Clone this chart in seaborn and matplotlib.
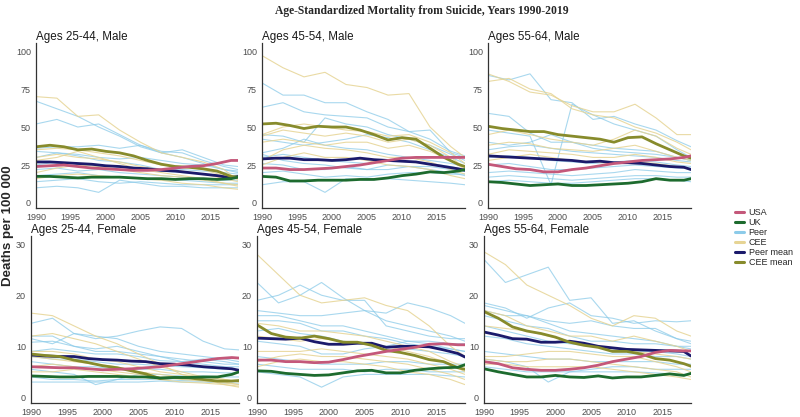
import numpy as np
import pandas as pd
import matplotlib
matplotlib.use("Agg")
import matplotlib.pyplot as plt
import seaborn as sns
from matplotlib.lines import Line2D

# ---------------- data ----------------
years_main = [1990, 1992, 1994, 1996, 1998, 2000, 2002, 2004, 2006, 2008,
              2010, 2012, 2014, 2016, 2018, 2019]
years_thin = [1990, 1993, 1996, 1999, 2002, 2005, 2008, 2011, 2014, 2017, 2019]

panel_titles = ["Ages 25-44, Male", "Ages 45-54, Male", "Ages 55-64, Male",
                "Ages 25-44, Female", "Ages 45-54, Female", "Ages 55-64, Female"]
x_ticks = [1990, 1995, 2000, 2005, 2010, 2015]
y_ticks_male = [0, 25, 50, 75, 100]
y_ticks_female = [0, 10, 20, 30]
legend_labels = ["USA", "UK", "Peer", "CEE", "Peer mean", "CEE mean"]

# Panel 1: Ages 25-44, Male
p1_usa = [24, 24.5, 25, 24, 23, 22.5, 22, 21.5, 21.5, 22, 23, 24, 24.5, 26, 28, 28]
p1_uk = [17.5, 17.5, 17, 16.5, 17, 17, 17, 16.5, 16, 16, 15.5, 16, 16, 15.5, 16, 17]
p1_peer_mean = [27, 27, 26.5, 26, 25.5, 24.5, 24, 23, 22.5, 21.5, 21, 20, 19, 18, 16.5, 17.5]
p1_cee_mean = [37, 38, 37, 35, 35.5, 34, 33, 31, 28, 25.5, 24, 23.5, 22.5, 21, 17.5, 17]
p1_peer = [
    [67, 62, 57, 50, 44, 37, 33, 30, 26, 22, 21],
    [52, 55, 50, 52, 45, 38, 34, 33, 28, 24, 22],
    [36, 37, 37, 38, 36, 38, 33, 35, 30, 25, 24],
    [34, 33, 32, 30, 29, 30, 28, 26, 25, 22, 20],
    [30, 33, 31, 28, 27, 25, 22, 22, 21, 20, 19],
    [25, 27, 26, 24, 24, 22, 21, 20, 19, 18, 18],
    [22, 23, 21, 22, 20, 19, 18, 17, 16, 15, 15],
    [14, 15, 16, 14, 13, 14, 13, 12, 12, 12, 12],
    [10, 11, 10, 7, 15, 13, 11, 11, 10, 10, 10],
    [18, 19, 20, 18, 17, 16, 16, 15, 14, 13, 13],
]
p1_cee = [
    [70, 69, 57, 58, 48, 40, 33, 30, 27, 22, 15],
    [35, 36, 35, 33, 31, 28, 25, 24, 22, 18, 16],
    [30, 32, 30, 29, 27, 24, 22, 21, 19, 16, 14],
    [28, 30, 34, 30, 26, 22, 20, 18, 16, 13, 12],
    [20, 23, 25, 24, 22, 20, 18, 17, 15, 13, 11],
    [16, 18, 19, 18, 17, 16, 15, 13, 12, 10, 9],
]

# Panel 2: Ages 45-54, Male
p2_usa = [23, 23, 22, 22, 22.5, 23, 24, 25, 26.5, 28, 29.5, 30, 30, 30, 30, 30]
p2_uk = [17.5, 17, 14.5, 14.5, 15, 15, 15, 15.5, 15.5, 16.5, 18, 19, 20.5, 20, 21, 22]
p2_peer_mean = [29, 29.5, 29.5, 28.5, 28.5, 28, 28.5, 29.5, 28.5, 28, 27.5, 27, 25.5, 24, 22.5, 21.5]
p2_cee_mean = [52, 52.5, 51, 49, 50.5, 50, 50, 48, 45, 41.5, 43, 42, 36, 30, 25.5, 24]
p2_peer = [
    [79, 71, 71, 66, 66, 60, 55, 47, 42, 34, 31],
    [63, 66, 60, 58, 57, 56, 50, 47, 48, 33, 30],
    [45, 44, 40, 56, 52, 50, 45, 42, 38, 32, 28],
    [42, 40, 38, 40, 42, 45, 43, 40, 35, 30, 26],
    [33, 36, 42, 38, 36, 35, 32, 30, 28, 26, 24],
    [30, 32, 30, 28, 27, 26, 28, 27, 26, 24, 22],
    [26, 25, 22, 22, 24, 22, 22, 24, 24, 22, 21],
    [20, 21, 19, 17, 18, 17, 19, 20, 20, 19, 19],
    [12, 14, 14, 7, 16, 15, 16, 15, 14, 13, 12],
    [32, 28, 26, 25, 23, 22, 25, 24, 22, 20, 18],
]
p2_cee = [
    [97, 89, 83, 86, 78, 76, 71, 72, 50, 37, 30],
    [45, 50, 52, 50, 48, 47, 44, 45, 40, 33, 26],
    [44, 48, 46, 44, 46, 44, 40, 42, 38, 30, 23],
    [40, 42, 40, 38, 40, 40, 36, 38, 34, 28, 22],
    [28, 35, 38, 36, 35, 33, 30, 30, 27, 22, 19],
    [25, 30, 33, 30, 30, 28, 25, 24, 22, 18, 16],
]

# Panel 3: Ages 55-64, Male
p3_usa = [25.5, 24, 22.5, 22, 20.5, 20.5, 22, 23, 24.5, 26, 27, 28, 28.5, 29, 30, 31]
p3_uk = [14, 13.5, 12.5, 11.5, 12, 12.5, 11.5, 11.5, 12, 12.5, 13, 14, 16, 15, 15, 16]
p3_peer_mean = [31, 30.5, 30, 29.5, 29, 28.5, 28, 27, 27.5, 26.5, 26.5, 26, 25, 24, 23.5, 22]
p3_cee_mean = [50.5, 49, 48, 47, 47, 45, 44, 43, 42, 40, 43, 43.5, 39, 35, 31, 29.5]
p3_peer = [
    [84, 81, 85, 68, 66, 55, 57, 52, 48, 41, 37],
    [59, 57, 46, 40, 40, 38, 36, 35, 34, 30, 28],
    [48, 46, 44, 12, 65, 58, 52, 48, 44, 35, 30],
    [40, 38, 40, 45, 40, 36, 34, 33, 32, 30, 28],
    [35, 37, 38, 36, 34, 33, 32, 31, 30, 28, 27],
    [30, 31, 30, 28, 27, 26, 27, 28, 27, 25, 24],
    [25, 26, 24, 22, 22, 23, 24, 25, 24, 23, 23],
    [20, 21, 20, 19, 18, 19, 20, 22, 21, 20, 20],
    [17, 18, 17, 16, 15, 16, 17, 18, 18, 17, 17],
    [14, 15, 14, 13, 13, 14, 15, 16, 16, 15, 14],
]
p3_cee = [
    [85, 80, 73, 71, 64, 60, 60, 65, 56, 45, 45],
    [80, 82, 75, 72, 62, 58, 56, 50, 46, 40, 35],
    [45, 48, 45, 42, 40, 38, 42, 48, 44, 36, 32],
    [38, 40, 39, 36, 35, 34, 36, 38, 34, 30, 28],
    [32, 35, 34, 33, 32, 30, 30, 32, 30, 27, 26],
    [28, 30, 32, 30, 28, 27, 26, 27, 26, 24, 22],
]

# Panel 4: Ages 25-44, Female
p4_usa = [6.0, 5.9, 5.8, 5.8, 5.6, 5.4, 5.5, 5.6, 5.8, 6.0, 6.4, 6.8, 7.2, 7.6, 7.8, 7.7]
p4_uk = [4.2, 4.1, 4.0, 4.0, 4.1, 4.1, 4.1, 4.0, 4.0, 3.8, 3.9, 3.9, 4.0, 4.0, 4.5, 5.0]
p4_peer_mean = [8.3, 8.1, 8.0, 8.0, 7.6, 7.4, 7.3, 7.1, 7.0, 6.6, 6.5, 6.3, 6.0, 5.8, 5.6, 5.3]
p4_cee_mean = [8.5, 8.2, 8.0, 7.3, 6.8, 6.2, 5.8, 5.2, 4.6, 3.7, 3.9, 3.8, 3.5, 3.2, 3.2, 3.3]
p4_peer = [
    [14.5, 15.5, 12.5, 11.5, 12, 13, 13.8, 13.5, 11, 9.5, 9.3],
    [11.5, 10.5, 12.5, 12, 11.5, 10, 9, 8.5, 8, 7.5, 7],
    [10.8, 11, 10, 9.5, 10, 9, 8, 7.5, 7, 6.5, 6.5],
    [9, 9.5, 9, 8.5, 8.5, 8, 7.2, 7, 6.5, 6, 6],
    [8, 7.5, 7.5, 7, 6.5, 6.5, 6.2, 6, 5.8, 5.5, 5.5],
    [7, 6.5, 6, 6, 5.5, 5.5, 5.5, 5, 5, 4.8, 4.8],
    [5.5, 5, 4.5, 2.5, 3.5, 4.5, 4.5, 4.2, 4.2, 4, 4],
    [4, 3.5, 3.5, 3.2, 3.5, 3.5, 3.5, 3.3, 3.2, 3.2, 3.2],
    [3, 3, 3, 3, 3, 3, 3.2, 3, 3, 2.8, 2.8],
    [12, 12, 10, 9, 9, 8.5, 8, 7, 7.5, 7, 6.5],
]
p4_cee = [
    [16.5, 16, 14, 12, 10.5, 8.5, 6.5, 4.5, 3.5, 2.5, 2],
    [12, 12.5, 11.5, 10.5, 9, 7.5, 6, 5, 4, 3.5, 3],
    [9, 9, 8.5, 7.5, 7, 6, 5, 4.5, 4, 3.5, 3],
    [8, 7.5, 7, 6.5, 6, 5, 4.5, 4, 3.5, 3, 2.5],
    [6, 6.5, 6, 5.5, 5, 4.5, 4, 3.5, 3.2, 2.8, 2.5],
    [5, 5, 5.5, 5, 4.5, 4, 3.5, 3, 2.8, 2.5, 2.2],
]

# Panel 5: Ages 45-54, Female
p5_usa = [7.3, 7.3, 7.0, 7.0, 6.8, 6.9, 7.4, 8.0, 8.5, 9.0, 9.4, 9.8, 10.4, 10.5, 10.3, 10.3]
p5_uk = [5.2, 5.1, 4.7, 4.5, 4.3, 4.4, 4.8, 5.2, 5.3, 4.8, 4.8, 5.3, 5.6, 5.8, 5.9, 6.4]
p5_peer_mean = [11.6, 11.5, 11.4, 11.6, 10.9, 10.4, 10.4, 10.6, 10.6, 9.8, 10.0, 10.0, 9.9, 9.3, 8.6, 7.9]
p5_cee_mean = [14.2, 12.5, 11.8, 11.6, 12.0, 11.5, 10.8, 10.8, 10.2, 9.2, 8.8, 8.2, 7.4, 7.0, 5.8, 5.5]
p5_peer = [
    [22.5, 18.5, 20, 22.5, 19.5, 17, 16.5, 18.5, 17.5, 16, 14.5],
    [19, 20, 22, 20, 19, 19, 14, 13, 12, 11.5, 11.5],
    [17, 16.5, 16, 16, 16.5, 17, 15, 14, 13, 12, 11],
    [16, 16, 15, 14, 14, 13, 12, 11, 11, 10.5, 10.5],
    [15, 15, 14.5, 13, 13, 12, 11.5, 10.5, 10, 9.5, 9],
    [13, 13.5, 12.5, 12, 11, 10.5, 10, 9.5, 9, 8.5, 8],
    [11, 10.5, 10, 8.5, 8.5, 9.5, 10, 11, 10.5, 9.5, 9],
    [8, 7.5, 7, 6.5, 6.5, 6.5, 7, 7, 6.5, 6.5, 6.5],
    [5, 4.5, 4, 2, 4, 4.5, 4.5, 4.5, 4.5, 4.2, 4],
    [6.5, 6, 5.5, 5.5, 5.5, 5, 5.5, 5.5, 5, 5, 5],
]
p5_cee = [
    [28, 24, 20, 18.5, 19, 19.5, 18, 17, 14, 10, 8],
    [14.5, 14, 13, 13, 12.5, 12, 11, 10, 9, 7, 6],
    [12, 11.5, 11, 11.5, 11, 10.5, 10, 9, 8, 6.5, 5],
    [9, 9, 9, 9.5, 9, 8.5, 8, 7.5, 6.5, 5.5, 4.5],
    [7, 8, 8.5, 8, 8, 7.5, 7, 6.5, 5.5, 4.5, 3.5],
    [6, 7, 7.5, 7, 7, 6.5, 6, 5, 4.5, 3.5, 2.5],
]

# Panel 6: Ages 55-64, Female
p6_usa = [7.0, 6.6, 5.8, 5.5, 5.3, 5.3, 5.5, 5.8, 6.3, 7.0, 7.5, 8.0, 8.8, 9.2, 9.1, 9.1]
p6_uk = [5.6, 5.0, 4.5, 4.0, 4.0, 4.3, 4.0, 3.9, 4.2, 3.8, 4.0, 4.0, 4.3, 4.6, 4.3, 4.7]
p6_peer_mean = [12.8, 12.2, 11.5, 11.4, 10.8, 10.8, 11.0, 10.6, 10.0, 9.7, 9.4, 9.3, 9.2, 9.1, 9.0, 8.1]
p6_cee_mean = [16.8, 15.5, 13.8, 13.0, 12.5, 11.8, 10.8, 10.2, 9.8, 9.0, 9.0, 8.5, 7.6, 7.3, 6.6, 6.1]
p6_peer = [
    [27, 22.5, 24, 25.5, 19, 19.5, 14.5, 15, 13, 11.5, 10.5],
    [18.5, 17.5, 15.5, 17.5, 18.5, 16, 15.5, 14.5, 15, 14.8, 15],
    [18, 17, 16, 15, 14.5, 15, 14, 13.5, 13.5, 11.5, 11],
    [17, 16, 16, 14.5, 13, 12.5, 12, 11.5, 11, 10, 10],
    [16, 15, 14, 13.5, 12, 11, 11, 10.5, 10.5, 10, 9.5],
    [14, 13, 12, 11, 10.5, 10, 9.5, 9, 9, 8.5, 8],
    [9, 8.5, 8, 7.5, 7.5, 7, 7, 7, 7, 6.5, 6.5],
    [7.5, 7, 6, 3, 5, 5.5, 6, 6, 5.5, 5.5, 5.5],
    [6, 5.5, 5, 5, 5, 5, 5, 5, 4.8, 4.5, 4.5],
    [12, 11.5, 10.5, 10, 9.5, 9, 8.5, 8.5, 8, 8, 7.5],
]
p6_cee = [
    [28.5, 26, 22, 20, 18, 15.5, 14, 16, 15.5, 13, 12],
    [17, 16, 14, 13, 12, 12, 11, 12, 11, 10, 9],
    [14, 13.5, 13, 12, 11, 10, 9.5, 9, 8.5, 8, 7.5],
    [8, 8, 8.5, 9, 9, 8.5, 8, 8, 7, 6, 5],
    [7.5, 7, 7, 7.5, 7.5, 7, 6.5, 6, 5.5, 5, 4],
    [6.5, 6.5, 6, 6, 6, 6, 5.5, 5, 4.5, 4, 3.5],
]

# ---------------- style ----------------
col = {"USA": "#c4587a", "UK": "#1d6b2e", "Peer": "#8ccbe9", "CEE": "#e6d494",
       "Peer mean": "#1b1a6b", "CEE mean": "#878b2c"}

sns.set_style("white")
plt.rcParams["font.family"] = ["Liberation Sans", "DejaVu Sans"]

W, H = 800, 417
fig = plt.figure(figsize=(W / 100, H / 100), dpi=100)

# axes boxes in pixels: left, top, right, bottom
boxes = [(36, 43, 238, 208), (262, 43, 465, 208), (488, 43, 691, 208),
         (31, 236, 239, 403), (257, 236, 465, 403), (484, 236, 691, 403)]

panels = [
    (p1_usa, p1_uk, p1_peer_mean, p1_cee_mean, p1_peer, p1_cee),
    (p2_usa, p2_uk, p2_peer_mean, p2_cee_mean, p2_peer, p2_cee),
    (p3_usa, p3_uk, p3_peer_mean, p3_cee_mean, p3_peer, p3_cee),
    (p4_usa, p4_uk, p4_peer_mean, p4_cee_mean, p4_peer, p4_cee),
    (p5_usa, p5_uk, p5_peer_mean, p5_cee_mean, p5_peer, p5_cee),
    (p6_usa, p6_uk, p6_peer_mean, p6_cee_mean, p6_peer, p6_cee),
]


def thin_df(lines):
    rows = []
    for i, ln in enumerate(lines):
        for yr, v in zip(years_thin, ln):
            rows.append({"year": yr, "value": v, "id": i})
    return pd.DataFrame(rows)


def main_df(vals):
    return pd.DataFrame({"year": years_main, "value": vals})


for k, (box, pdata) in enumerate(zip(boxes, panels)):
    l, t, r, b = box
    ax = fig.add_axes([l / W, (H - b) / H, (r - l) / W, (b - t) / H])
    usa, uk, pmean, cmean, peer, cee = pdata
    sns.lineplot(data=thin_df(peer), x="year", y="value", units="id", estimator=None,
                 color=col["Peer"], lw=0.8, alpha=0.75, ax=ax, legend=False)
    sns.lineplot(data=thin_df(cee), x="year", y="value", units="id", estimator=None,
                 color=col["CEE"], lw=0.8, alpha=0.85, ax=ax, legend=False)
    for vals, key in [(pmean, "Peer mean"), (cmean, "CEE mean"), (uk, "UK"), (usa, "USA")]:
        sns.lineplot(data=main_df(vals), x="year", y="value", color=col[key],
                     lw=2.0, ax=ax, legend=False)
    ax.set_xlim(1990, 2019)
    if k < 3:
        ax.set_ylim(-3.3, 105.3)
        ax.set_yticks(y_ticks_male)
    else:
        ax.set_ylim(-1.1, 31.6)
        ax.set_yticks(y_ticks_female)
    ax.set_xticks(x_ticks)
    ax.set_xlabel("")
    ax.set_ylabel("")
    for s in ["top", "right"]:
        ax.spines[s].set_visible(False)
    for s in ["left", "bottom"]:
        ax.spines[s].set_color("#333333")
        ax.spines[s].set_linewidth(0.9)
    ax.tick_params(axis="both", length=2.5, width=0.7, color="#333333",
                   labelsize=6.5, labelcolor="#4d4d4d", pad=1.2)
    ax.set_title(panel_titles[k], loc="left", fontsize=8.4, color="#1a1a1a", pad=2)

fig.text(422 / W, 1 - 11 / H, "Age-Standardized Mortality from Suicide, Years 1990-2019",
         ha="center", va="center", fontsize=8.4, fontweight="bold",
         family=["Liberation Serif", "DejaVu Serif"])
fig.text(8 / W, 1 - 226 / H, "Deaths per 100 000", rotation=90, ha="center", va="center",
         fontsize=9.6, fontweight="bold")

handles = [Line2D([0], [0], color=col[k], lw=2.2) for k in legend_labels]
fig.legend(handles, legend_labels, loc="upper left", bbox_to_anchor=(735 / W, 1 - 208 / H),
           frameon=False, fontsize=6.5, handlelength=1.0, handletextpad=0.5,
           labelspacing=0.12, borderaxespad=0, borderpad=0)

fig.savefig("out.png", dpi=100)
